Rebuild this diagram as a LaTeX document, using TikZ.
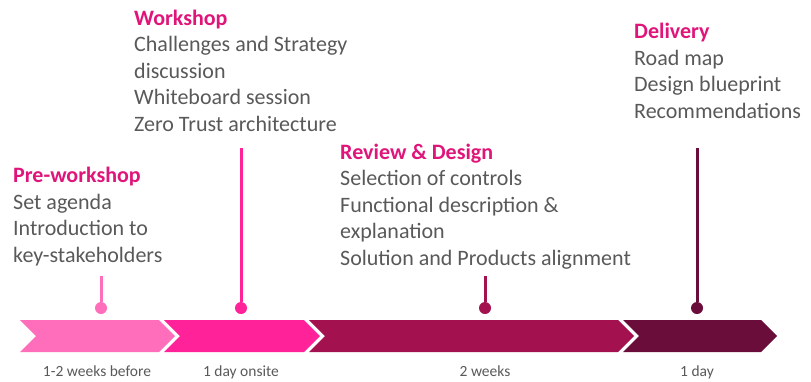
\documentclass[tikz,border=0pt]{standalone}
\usepackage{fontspec}
\setmainfont{Carlito}
\usepackage{xcolor}
\usetikzlibrary{calc, positioning}
\definecolor{pinkA}{HTML}{FF6EBB}
\definecolor{pinkB}{HTML}{FF2299}
\definecolor{plumC}{HTML}{A3124F}
\definecolor{plumD}{HTML}{6A0D3A}
\definecolor{headpink}{HTML}{E0157A}
\definecolor{txtgray}{HTML}{595959}
\newcommand{\phasehead}[1]{\textcolor{headpink}{\textbf{#1}}}

\begin{document}
\begin{tikzpicture}
              [x=1pt, y=-1pt,
               phase/.style={align=left, inner sep=0pt, anchor=base west, text=txtgray, font=\fontsize{22}{26.5}\selectfont},
               span/.style={inner sep=0pt, anchor=base, text=txtgray, font=\fontsize{15.5}{17}\selectfont},
               dot/.style={circle, inner sep=0pt, minimum size=12pt},
               pin/.style={line width=3pt}]
              \useasboundingbox (0,0) rectangle (811,381);

              % chevrons %
              \fill[pinkA] (20,320) -- (159,320) -- (175,336) -- (159,352) -- (20,352) -- (36,336) -- cycle;
              \fill[pinkB] (164,320) -- (304,320) -- (320,336) -- (304,352) -- (164,352) -- (180,336) -- cycle;
              \fill[plumC] (309,320) -- (618,320) -- (634,336) -- (618,352) -- (309,352) -- (325,336) -- cycle;
              \fill[plumD] (623,320) -- (761,320) -- (777,336) -- (761,352) -- (623,352) -- (639,336) -- cycle;

              % nodes (anchored at the baseline of the last line) %
              \node[phase] (pre) at (13,262) {\phasehead{Pre-workshop}\\Set agenda\\Introduction to\\key-stakeholders};
              \node[phase] (work) at (134,131) {\phasehead{Workshop}\\Challenges and Strategy\\discussion\\Whiteboard session\\Zero Trust architecture};
              \node[phase] (review) at (340,265) {\phasehead{Review \& Design}\\Selection of controls\\Functional description \&\\explanation\\Solution and Products alignment};
              \node[phase] (deliv) at (634,118) {\phasehead{Delivery}\\Road map\\Design blueprint\\Recommendations};

              \node[span] (t1) at (97,376) {1-2 weeks before};
              \node[span] (t2) at (241,376) {1 day onsite};
              \node[span] (t3) at (485,376) {2 weeks};
              \node[span] (t4) at (697,376) {1 day};

              \node[dot, fill=pinkA] (d1) at (101,308) {};
              \node[dot, fill=pinkB] (d2) at (241,308) {};
              \node[dot, fill=plumC] (d3) at (485,308) {};
              \node[dot, fill=plumD] (d4) at (697,308) {};
              \coordinate (p1) at (101,276);
              \coordinate (p2) at (241,148);
              \coordinate (p3) at (485,276);
              \coordinate (p4) at (697,148);

              % edges %
              \draw[pin, pinkA] (p1) -- (d1);
              \draw[pin, pinkB] (p2) -- (d2);
              \draw[pin, plumC] (p3) -- (d3);
              \draw[pin, plumD] (p4) -- (d4);
            \end{tikzpicture}
\end{document}
